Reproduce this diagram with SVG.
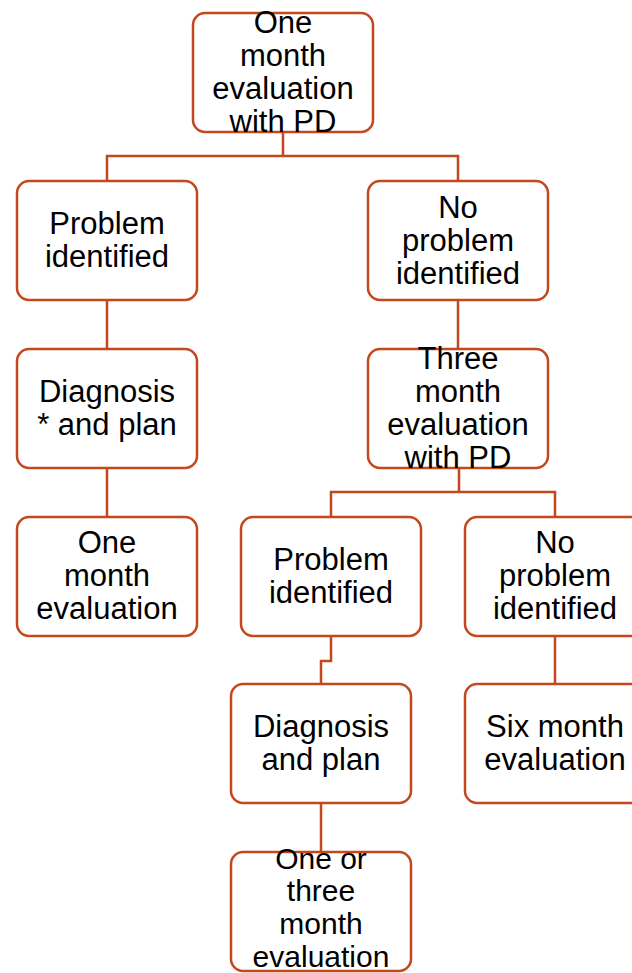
<svg xmlns="http://www.w3.org/2000/svg" width="632" height="973" viewBox="0 0 632 973">
<style>
.box{fill:#fff;stroke:#C4481E;stroke-width:2.5}
.c{fill:none;stroke:#C4481E;stroke-width:2.5}
text{font-family:"Liberation Sans",Arial,sans-serif;font-size:31px;fill:#000;text-anchor:middle}
.s{font-size:30px}
</style>
<rect width="632" height="973" fill="#fff"/>
<g id="connectors">
<path class="c" d="M283 132V156M107 181V156H458V181"/>
<path class="c" d="M107 300V349M107 468V517"/>
<path class="c" d="M458 300V349"/>
<path class="c" d="M459 468V492M331 517V492H555V517"/>
<path class="c" d="M331 636V661H321V684"/>
<path class="c" d="M555 636V684"/>
<path class="c" d="M321 803V852"/>
</g>
<g id="n1"><rect class="box" x="193" y="13" width="180" height="119" rx="12"/>
<text x="283" y="33">One</text><text x="283" y="66">month</text><text x="283" y="99">evaluation</text><text x="283" y="132">with PD</text></g>
<g id="n2"><rect class="box" x="17" y="181" width="180" height="119" rx="12"/>
<text x="107" y="234">Problem</text><text x="107" y="267">identified</text></g>
<g id="n3"><rect class="box" x="368" y="181" width="180" height="119" rx="12"/>
<text x="458" y="218">No</text><text x="458" y="251">problem</text><text x="458" y="284">identified</text></g>
<g id="n4"><rect class="box" x="17" y="349" width="180" height="119" rx="12"/>
<text x="107" y="402">Diagnosis</text><text x="107" y="435">* and plan</text></g>
<g id="n5"><rect class="box" x="368" y="349" width="180" height="119" rx="12"/>
<text x="458" y="369">Three</text><text x="458" y="402">month</text><text x="458" y="435">evaluation</text><text x="458" y="468">with PD</text></g>
<g id="n6"><rect class="box" x="17" y="517" width="180" height="119" rx="12"/>
<text x="107" y="553">One</text><text x="107" y="586">month</text><text x="107" y="619">evaluation</text></g>
<g id="n7"><rect class="box" x="241" y="517" width="180" height="119" rx="12"/>
<text x="331" y="570">Problem</text><text x="331" y="603">identified</text></g>
<g id="n8"><rect class="box" x="465" y="517" width="180" height="119" rx="12"/>
<text x="555" y="553">No</text><text x="555" y="586">problem</text><text x="555" y="619">identified</text></g>
<g id="n9"><rect class="box" x="231" y="684" width="180" height="119" rx="12"/>
<text x="321" y="737">Diagnosis</text><text x="321" y="770">and plan</text></g>
<g id="n10"><rect class="box" x="465" y="684" width="180" height="119" rx="12"/>
<text x="555" y="737">Six month</text><text x="555" y="770">evaluation</text></g>
<g id="n11"><rect class="box" x="231" y="852" width="180" height="119" rx="12"/>
<text class="s" x="321" y="869">One or</text><text class="s" x="321" y="901">three</text><text class="s" x="321" y="934">month</text><text class="s" x="321" y="967">evaluation</text></g>
</svg>
